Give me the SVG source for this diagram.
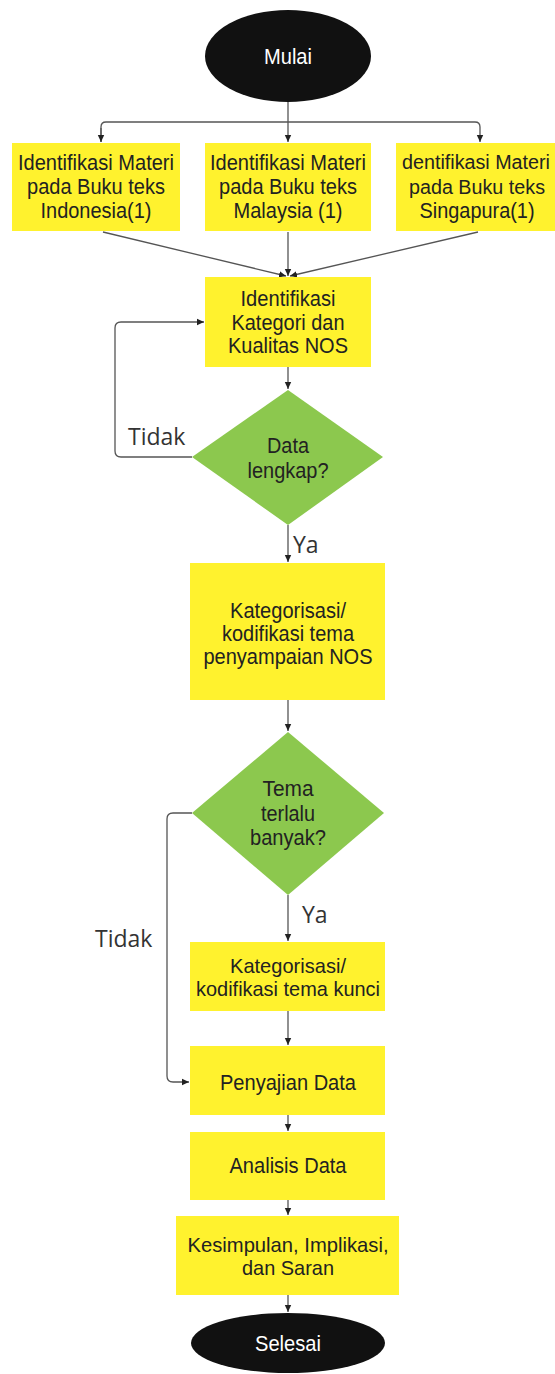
<svg xmlns="http://www.w3.org/2000/svg" width="555" height="1374" viewBox="0 0 555 1374">
<defs>
<marker id="arr" markerWidth="8" markerHeight="8" refX="7" refY="4" orient="auto" markerUnits="userSpaceOnUse">
<path d="M0,0.8 L7,4 L0,7.2 Z" fill="#222"/>
</marker>
<style>
.box{fill:#FFF22E;}
.dia{fill:#8CC84E;}
.term{fill:#111;}
.t{font-family:'Liberation Sans',Arial,sans-serif;font-size:22px;fill:#222;text-anchor:middle;}
.s{font-size:21px;}
.n{font-size:20px;}
.tw{font-family:'Liberation Sans',Arial,sans-serif;font-size:22px;fill:#fff;text-anchor:middle;}
.lbl{font-family:'Open Sans','DejaVu Sans',sans-serif;font-size:23px;fill:#333;}
.c{fill:none;stroke:#555;stroke-width:1.3;}
</style>
</defs>
<rect width="555" height="1374" fill="#fff"/>
<g id="connectors">
<path class="c" d="M288,102 V122"/>
<path class="c" d="M101,142 V127 Q101,122 106,122 H475 Q480,122 480,127 V142" marker-end="url(#arr)"/>
<path class="c" d="M101,128 V142" marker-end="url(#arr)"/>
<path class="c" d="M288,122 V142" marker-end="url(#arr)"/>
<path class="c" d="M103,232 L286,276" marker-end="url(#arr)"/>
<path class="c" d="M288,232 V276" marker-end="url(#arr)"/>
<path class="c" d="M478,232 L290,276" marker-end="url(#arr)"/>
<path class="c" d="M288,367 V389" marker-end="url(#arr)"/>
<path class="c" d="M192,457 H121 Q115,457 115,451 V328 Q115,322 121,322 H204" marker-end="url(#arr)"/>
<path class="c" d="M288,525 V562" marker-end="url(#arr)"/>
<path class="c" d="M288,700 V731" marker-end="url(#arr)"/>
<path class="c" d="M192,813 H173 Q167,813 167,819 V1076 Q167,1082 173,1082 H189" marker-end="url(#arr)"/>
<path class="c" d="M288,895 V941" marker-end="url(#arr)"/>
<path class="c" d="M288,1011 V1045" marker-end="url(#arr)"/>
<path class="c" d="M288,1115 V1131" marker-end="url(#arr)"/>
<path class="c" d="M288,1200 V1215" marker-end="url(#arr)"/>
<path class="c" d="M288,1295 V1312" marker-end="url(#arr)"/>
<text class="lbl" x="128" y="445">Tidak</text>
<text class="lbl" x="293" y="553">Ya</text>
<text class="lbl" x="95" y="947">Tidak</text>
<text class="lbl" x="302" y="923">Ya</text>
</g>
<g id="mulai">
<ellipse class="term" cx="288" cy="56" rx="83" ry="46"/>
<text class="tw" x="288" y="64" textLength="48" lengthAdjust="spacingAndGlyphs">Mulai</text>
</g>
<g id="identifikasi-indonesia">
<rect class="box" x="12" y="143" width="168" height="88"/>
<text class="t" x="96" y="170" textLength="156" lengthAdjust="spacingAndGlyphs">Identifikasi Materi</text>
<text class="t" x="96" y="194" textLength="138" lengthAdjust="spacingAndGlyphs">pada Buku teks</text>
<text class="t" x="96" y="218" textLength="111" lengthAdjust="spacingAndGlyphs">Indonesia(1)</text>
</g>
<g id="identifikasi-malaysia">
<rect class="box" x="205" y="143" width="166" height="88"/>
<text class="t" x="288" y="170" textLength="156" lengthAdjust="spacingAndGlyphs">Identifikasi Materi</text>
<text class="t" x="288" y="194" textLength="138" lengthAdjust="spacingAndGlyphs">pada Buku teks</text>
<text class="t" x="288" y="218" textLength="109" lengthAdjust="spacingAndGlyphs">Malaysia (1)</text>
</g>
<g id="identifikasi-singapura">
<rect class="box" x="396" y="143" width="159" height="88"/>
<text class="t n" x="476" y="169" textLength="148" lengthAdjust="spacingAndGlyphs">dentifikasi Materi</text>
<text class="t n" x="477" y="194" textLength="136" lengthAdjust="spacingAndGlyphs">pada Buku teks</text>
<text class="t" x="477" y="218" textLength="115" lengthAdjust="spacingAndGlyphs">Singapura(1)</text>
</g>
<g id="identifikasi-kategori">
<rect class="box" x="205" y="277" width="166" height="90"/>
<text class="t" x="288" y="306" textLength="95" lengthAdjust="spacingAndGlyphs">Identifikasi</text>
<text class="t" x="288" y="330" textLength="113" lengthAdjust="spacingAndGlyphs">Kategori dan</text>
<text class="t" x="288" y="353" textLength="120" lengthAdjust="spacingAndGlyphs">Kualitas NOS</text>
</g>
<g id="data-lengkap">
<polygon class="dia" points="288,390 383,457 288,525 192,457"/>
<text class="t" x="288" y="453" textLength="42" lengthAdjust="spacingAndGlyphs">Data</text>
<text class="t" x="288" y="478" textLength="81" lengthAdjust="spacingAndGlyphs">lengkap?</text>
</g>
<g id="kategorisasi-penyampaian">
<rect class="box" x="190" y="563" width="195" height="137"/>
<text class="t" x="288" y="618" textLength="116" lengthAdjust="spacingAndGlyphs">Kategorisasi/</text>
<text class="t" x="288" y="641" textLength="132" lengthAdjust="spacingAndGlyphs">kodifikasi tema</text>
<text class="t" x="288" y="664" textLength="169" lengthAdjust="spacingAndGlyphs">penyampaian NOS</text>
</g>
<g id="tema-banyak">
<polygon class="dia" points="288,732 384,813 288,895 192,813"/>
<text class="t" x="288" y="796" textLength="51" lengthAdjust="spacingAndGlyphs">Tema</text>
<text class="t" x="288" y="821" textLength="54" lengthAdjust="spacingAndGlyphs">terlalu</text>
<text class="t" x="288" y="845" textLength="76" lengthAdjust="spacingAndGlyphs">banyak?</text>
</g>
<g id="kategorisasi-kunci">
<rect class="box" x="190" y="942" width="195" height="69"/>
<text class="t s" x="288" y="973" textLength="116" lengthAdjust="spacingAndGlyphs">Kategorisasi/</text>
<text class="t s" x="288" y="996" textLength="184" lengthAdjust="spacingAndGlyphs">kodifikasi tema kunci</text>
</g>
<g id="penyajian-data">
<rect class="box" x="190" y="1046" width="195" height="69"/>
<text class="t" x="288" y="1090" textLength="136" lengthAdjust="spacingAndGlyphs">Penyajian Data</text>
</g>
<g id="analisis-data">
<rect class="box" x="190" y="1132" width="195" height="68"/>
<text class="t" x="288" y="1173" textLength="117" lengthAdjust="spacingAndGlyphs">Analisis Data</text>
</g>
<g id="kesimpulan">
<rect class="box" x="176" y="1216" width="223" height="79"/>
<text class="t s" x="288" y="1252" textLength="201" lengthAdjust="spacingAndGlyphs">Kesimpulan, Implikasi,</text>
<text class="t s" x="288" y="1275" textLength="92" lengthAdjust="spacingAndGlyphs">dan Saran</text>
</g>
<g id="selesai">
<ellipse class="term" cx="288" cy="1343" rx="97" ry="30"/>
<text class="tw" x="288" y="1351" textLength="66" lengthAdjust="spacingAndGlyphs">Selesai</text>
</g>
</svg>
